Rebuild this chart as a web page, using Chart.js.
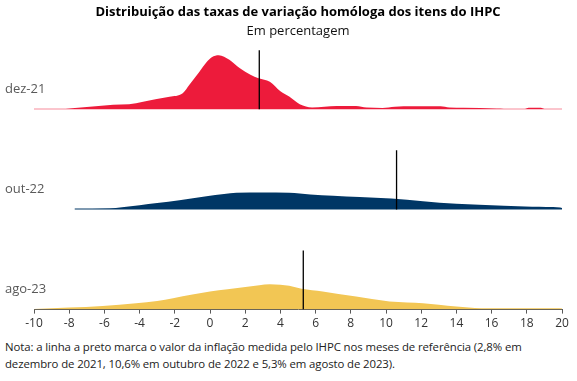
<!DOCTYPE html>
<html>
<head>
<meta charset="utf-8">
<script src="https://cdn.jsdelivr.net/npm/chart.js@4/dist/chart.umd.min.js"></script>
<style>
  html, body { margin: 0; padding: 0; background: #fff; }
  #wrap { position: relative; width: 577px; height: 335px; }
  #note { font-family: "Open Sans", sans-serif; font-size: 11.4px; color: #222; line-height: 17px; padding: 3px 0 0 5px; letter-spacing: -0.1px; }
</style>
</head>
<body>
<div id="wrap"><canvas id="c"></canvas></div>
<div id="note">Nota: a linha a preto marca o valor da inflação medida pelo IHPC nos meses de referência (2,8% em<br>dezembro de 2021, 10,6% em outubro de 2022 e 5,3% em agosto de 2023).</div>
<script>
// ---- Data ----
const categories = ['dez-21', 'out-22', 'ago-23'];
const inflation = [2.8, 10.6, 5.3];
const xTicks = [-10, -8, -6, -4, -2, 0, 2, 4, 6, 8, 10, 12, 14, 16, 18, 20];

const xDez21 = [-10, -8.2, -7.5, -6.5, -5.5, -4.6, -3.8, -3.1, -2.3, -1.55, -1.17, -0.6, -0.2, 0.1, 0.5, 1.1, 1.7, 2.3, 2.76, 3.4, 4.0, 4.5, 5.1, 5.8, 6.5, 7.2, 8.3, 8.9, 9.8, 10.5, 11.0, 13.1, 13.6, 14.4, 16.3, 16.7, 17.9, 18.1, 18.8, 19.0, 20];
const yDez21 = [0.6, 0.6, 1.5, 3, 4.5, 5, 7.5, 10, 12.5, 16, 24.5, 37.5, 47, 52, 54, 49.5, 41, 34.5, 31, 27.5, 18, 12.7, 5, 1.8, 2.5, 3.3, 3.3, 1.7, 1.3, 2.5, 3, 3, 1.8, 1.5, 0.8, 0.6, 0.6, 1.5, 1.5, 0.6, 0.6];

const xOut22 = [-7.7, -5.7, -5, -4.0, -3, -1.74, -0.2, 0.8, 1.5, 3, 4.5, 5.7, 7, 8.5, 10.3, 12.1, 14.0, 15.3, 16.7, 18.3, 19.9, 20];
const yOut22 = [1, 1.2, 2.2, 4.3, 6.5, 9.3, 13.3, 15.5, 16.7, 17, 16.7, 15, 13.8, 12.5, 11, 8.3, 5.7, 4.8, 3.7, 2.7, 2, 1.5];

const xAgo23 = [-10, -8, -6.1, -4.2, -3, -2.1, -1, 0, 1, 1.9, 2.8, 3.4, 4.0, 4.5, 5.2, 6.4, 7.3, 8.3, 9.2, 10.2, 11.2, 12.1, 13, 14.0, 15.4, 17, 19.7, 20];
const yAgo23 = [0.6, 2, 3.7, 6.3, 8.5, 11.3, 15, 18, 20.3, 22.3, 24.3, 25.3, 24.7, 23.7, 20.7, 18, 15.5, 13, 10.5, 8, 7, 6.3, 4.8, 3, 1.3, 1.3, 1.3, 1.2];

// ---- Layout of ridges ----
const baselines = [200, 100, 0];
const colors = ['rgb(237,27,59)', 'rgb(0,54,101)', 'rgb(242,198,84)'];
const markerHeight = 59;
const labelOffset = 20;

const seriesX = [xDez21, xOut22, xAgo23];
const seriesY = [yDez21, yOut22, yAgo23];

const datasets = [];
categories.forEach((cat, i) => {
  datasets.push({
    label: cat,
    data: seriesX[i].map((x, k) => ({ x: x, y: baselines[i] + seriesY[i][k] })),
    borderWidth: 0,
    borderColor: colors[i],
    backgroundColor: colors[i],
    fill: { value: baselines[i] },
    pointRadius: 0,
    cubicInterpolationMode: 'monotone',
    order: 2
  });
  datasets.push({
    label: cat + ' inflação',
    data: [{ x: inflation[i], y: baselines[i] }, { x: inflation[i], y: baselines[i] + markerHeight }],
    borderColor: '#000',
    borderWidth: 1.3,
    fill: false,
    pointRadius: 0,
    order: 1
  });
});

const rowLabels = {
  id: 'rowLabels',
  afterDatasetsDraw(chart) {
    const ctx = chart.ctx;
    const ys = chart.scales.y;
    ctx.save();
    ctx.font = '13px "Open Sans", sans-serif';
    ctx.fillStyle = '#595959';
    ctx.textBaseline = 'middle';
    ctx.textAlign = 'left';
    categories.forEach((cat, i) => {
      ctx.fillText(cat, 5, ys.getPixelForValue(baselines[i] + labelOffset));
    });
    ctx.restore();
  }
};

new Chart(document.getElementById('c'), {
  type: 'line',
  data: { datasets: datasets },
  plugins: [rowLabels],
  options: {
    responsive: true,
    maintainAspectRatio: false,
    animation: false,
    layout: { padding: { left: 34, right: 15, bottom: 1, top: 0 } },
    plugins: {
      legend: { display: false },
      tooltip: { enabled: false },
      title: {
        display: true,
        text: 'Distribuição das taxas de variação homóloga dos itens do IHPC',
        font: { family: '"Open Sans", sans-serif', size: 13, weight: 'bold' },
        color: '#000',
        padding: { top: 4, bottom: 3 }
      },
      subtitle: {
        display: true,
        text: 'Em percentagem',
        font: { family: '"Open Sans", sans-serif', size: 13 },
        color: '#111',
        padding: { top: 1, bottom: 8 }
      }
    },
    scales: {
      x: {
        type: 'linear',
        min: -10,
        max: 20,
        afterBuildTicks(scale) { scale.ticks = xTicks.map(v => ({ value: v })); },
        ticks: {
          font: { family: '"Open Sans", sans-serif', size: 12 },
          color: '#333',
          padding: 3,
          maxRotation: 0
        },
        grid: { display: true, drawOnChartArea: false, drawTicks: true, tickLength: 4, color: '#595959' },
        border: { display: true, color: '#595959', width: 1 }
      },
      y: {
        display: false,
        min: 0,
        max: 262
      }
    }
  }
});
</script>
</body>
</html>
